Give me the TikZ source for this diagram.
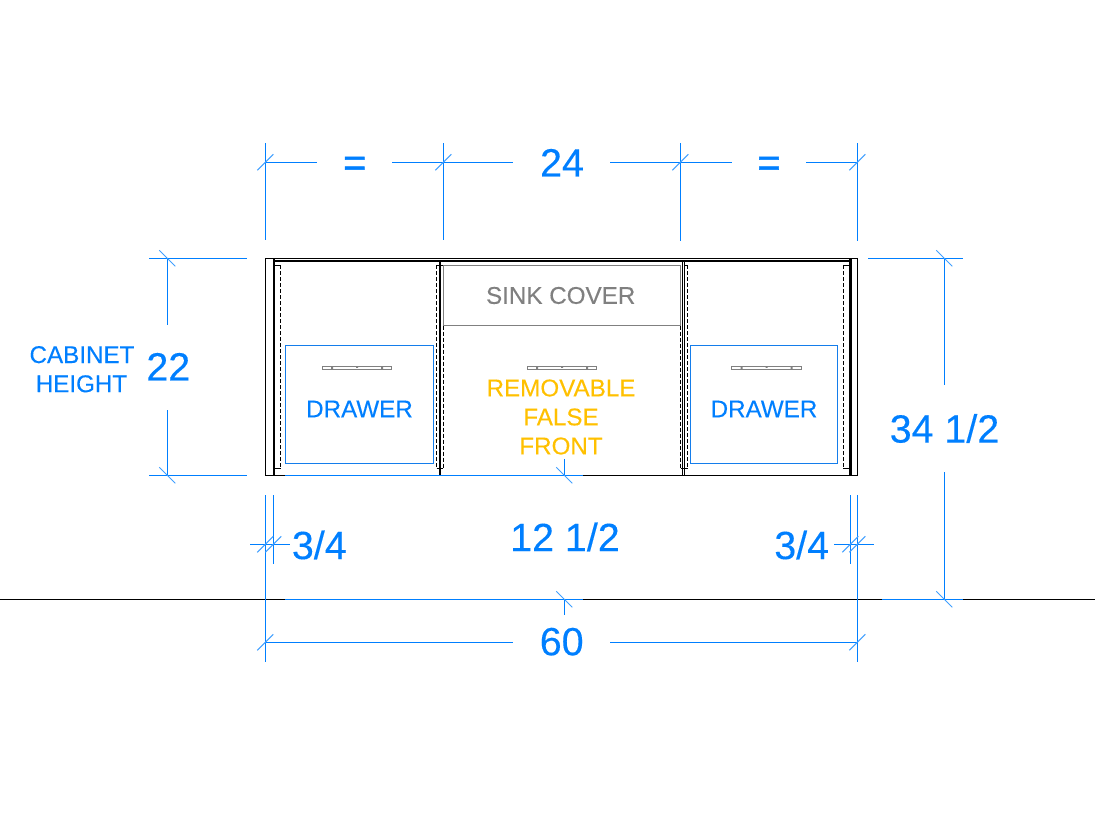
\documentclass[tikz,border=0pt]{standalone}
\usepackage{fontspec}
\setmainfont{Liberation Sans}
\newfontfamily\heavier[FakeBold=0.25]{Liberation Sans}
\newfontfamily\heavyeq[FakeBold=1.2]{Liberation Sans}
\definecolor{dimblue}{RGB}{0,127,255}
\definecolor{boxblue}{RGB}{20,125,235}
\definecolor{falseorange}{RGB}{255,192,0}
\definecolor{covergray}{RGB}{128,128,128}
\tikzset{
  thinblack/.style={draw=black,line width=1.2pt},
  heavyblack/.style={draw=black,line width=2.6pt},
  hidden/.style={draw=black,line width=1pt,dash pattern=on 4pt off 2pt},
  hiddenend/.style={draw=black,line width=1pt},
  coverline/.style={draw=covergray,line width=1pt},
  handleline/.style={draw=covergray,line width=1.1pt},
  boxline/.style={draw=boxblue,line width=1pt},
  dimline/.style={draw=dimblue,line width=1pt},
  tickline/.style={draw=dimblue!75,line width=1pt},
  lbl/.style={inner sep=0pt,outer sep=0pt,align=center},
  bigdim/.style={lbl,text=dimblue,font=\heavier\fontsize{39.4}{39.4}\selectfont},
  eqdim/.style={lbl,text=dimblue,font=\heavyeq\fontsize{39.4}{39.4}\selectfont},
  smalltxt/.style={lbl,font=\heavier\fontsize{24.2}{24.2}\selectfont},
  pics/fwd/.style={code={\draw[tickline] (-8,8) -- (8,-8);}},
  pics/bwd/.style={code={\draw[tickline] (-8,-8) -- (8,8);}},
  pics/handle/.style={code={
    \draw[handleline] (-34.7,-1.5) rectangle (34.7,1.5);
    \fill[covergray] (-26,-1.5) rectangle (-24,1.5) (-1,-1.5) rectangle (1,0) (24,-1.5) rectangle (26,1.5);
  }},
}
\begin{document}
\begin{tikzpicture}[x=1pt,y=-1pt]
\useasboundingbox (0,0) rectangle (1095,819);
% ground line
\draw[thinblack] (0,599.3) -- (285,599.3) (583,599.3) -- (882,599.3) (963,599.3) -- (1095,599.3);
% cover and drawers
\draw[coverline] (443.3,265.3) rectangle (680.5,325.7);
\draw[boxline] (285.3,345.3) rectangle (433.7,463.3);
\draw[boxline] (690.3,345.3) rectangle (837.7,463.3);
% hidden panel edges
\draw[hidden] (280.7,265.3) -- (280.7,468.3);
\draw[hiddenend] (274,265.3) -- (280.7,265.3) (274,468.3) -- (280.7,468.3);
\draw[hidden] (436.6,265.3) -- (436.6,468.3) (443.3,325.7) -- (443.3,468.3);
\draw[hiddenend] (436.6,265.3) -- (443.3,265.3) (436.6,468.3) -- (443.3,468.3);
\draw[hidden] (680.5,325.7) -- (680.5,468.3) (687.7,265.3) -- (687.7,468.3);
\draw[hiddenend] (684,265.3) -- (687.7,265.3) (680.5,468.3) -- (687.7,468.3);
\draw[hidden] (843.4,265.3) -- (843.4,468.3);
\draw[hiddenend] (843.4,265.3) -- (850,265.3) (843.4,468.3) -- (850,468.3);
% cabinet
\draw[thinblack] (285,475.3) -- (265.5,475.3) -- (265.5,258.7) -- (857.3,258.7) -- (857.3,475.3) -- (583,475.3);
\draw[thinblack] (274,260.9) -- (850,260.9);
\draw[heavyblack] (274,258.7) -- (274,475.3);
\draw[heavyblack] (440,260.9) -- (440,475.3);
\draw[thinblack] (682.6,260.9) -- (682.6,475.3) (684.4,260.9) -- (684.4,475.3);
\draw[heavyblack] (850.5,258.7) -- (850.5,475.3);
% handles
\pic at (357,367.8) {handle};
\pic at (562,367.8) {handle};
\pic at (766.5,367.8) {handle};
% top dimension
\draw[dimline] (265.3,143) -- (265.3,240) (443.3,143) -- (443.3,240) (680.3,143) -- (680.3,241) (857.3,143) -- (857.3,241);
\draw[dimline] (265.3,162.3) -- (316.7,162.3) (392,162.3) -- (512.7,162.3) (610,162.3) -- (732,162.3) (806,162.3) -- (857.3,162.3);
\pic at (265.3,162.3) {fwd};
\pic at (443.3,162.3) {fwd};
\pic at (680.3,162.3) {fwd};
\pic at (857.3,162.3) {fwd};
% left dimension
\draw[dimline] (149,258.3) -- (247,258.3) (149,475.3) -- (247,475.3);
\draw[dimline] (167.3,258.3) -- (167.3,325) (167.3,410) -- (167.3,475.3);
\pic at (167.3,258.3) {bwd};
\pic at (167.3,475.3) {bwd};
% right dimension
\draw[dimline] (868,258.3) -- (963,258.3) (882,599.3) -- (963,599.3);
\draw[dimline] (944.3,258.3) -- (944.3,385) (944.3,472) -- (944.3,599.3);
\pic at (944.3,258.3) {bwd};
\pic at (944.3,599.3) {bwd};
% centre dimension
\draw[dimline] (285,475.3) -- (583,475.3) (285,599.3) -- (583,599.3);
\draw[dimline] (564.3,459) -- (564.3,475.3) (564.3,599.3) -- (564.3,615);
\pic at (564.3,475.3) {bwd};
\pic at (564.3,599.3) {bwd};
% quarter dimensions
\draw[dimline] (265.3,495) -- (265.3,661.7) (273.3,495) -- (273.3,563.5);
\draw[dimline] (250,544.3) -- (290,544.3);
\pic at (265.3,544.3) {fwd};
\pic at (273.3,544.3) {fwd};
\draw[dimline] (850.3,495) -- (850.3,563.5) (857.3,495) -- (857.3,661.7);
\draw[dimline] (834,544.3) -- (873.7,544.3);
\pic at (850.3,544.3) {fwd};
\pic at (857.3,544.3) {fwd};
% bottom dimension
\draw[dimline] (265.3,642.3) -- (513,642.3) (610,642.3) -- (857.3,642.3);
\pic at (265.3,642.3) {fwd};
\pic at (857.3,642.3) {fwd};
% labels
\node[eqdim] (eqL) at (354.7,166.5) {=};
\node[bigdim] (d24) at (562,162.7) {24};
\node[eqdim] (eqR) at (769,166.5) {=};
\node[bigdim] (d22) at (168.3,366.7) {22};
\node[bigdim] (d34) at (944.5,428.5) {34 1/2};
\node[bigdim] (d12) at (565,537) {12 1/2};
\node[bigdim] (q1) at (319.3,545) {3/4};
\node[bigdim] (q2) at (801.7,545) {3/4};
\node[bigdim] (d60) at (561.7,641.7) {60};
\node[smalltxt,text=dimblue] (cab) at (82,354.7) {CABINET};
\node[smalltxt,text=dimblue] (hgt) at (81.5,383.8) {HEIGHT};
\node[smalltxt,text=dimblue] (dr1) at (359.5,409) {DRAWER};
\node[smalltxt,text=dimblue] (dr2) at (764,409) {DRAWER};
\node[smalltxt,text=covergray] (sink) at (560.7,295.5) {SINK COVER};
\node[smalltxt,text=falseorange] (rm1) at (561,388) {REMOVABLE};
\node[smalltxt,text=falseorange] (rm2) at (561,417) {FALSE};
\node[smalltxt,text=falseorange] (rm3) at (561,446) {FRONT};
\end{tikzpicture}
\end{document}
